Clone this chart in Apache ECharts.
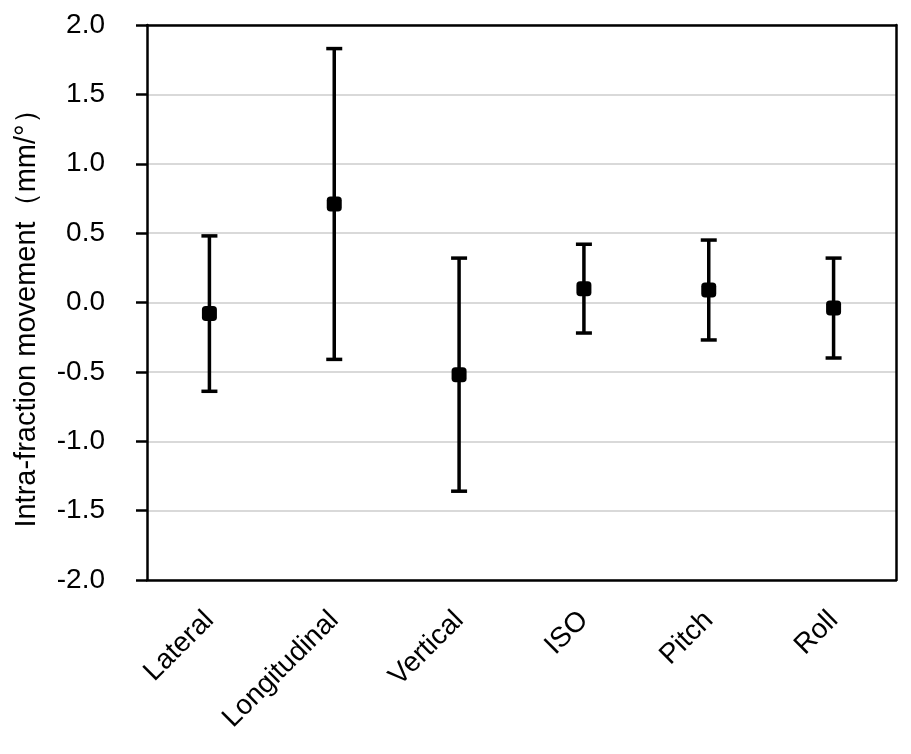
<!DOCTYPE html>
<html>
<head>
<meta charset="utf-8">
<script src="https://cdn.jsdelivr.net/npm/echarts@6/dist/echarts.min.js"></script>
<style>
html, body { margin: 0; padding: 0; background: #fff; }
#chart { width: 911px; height: 754px; }
</style>
</head>
<body>
<div id="chart"></div>
<script>
// movement per axis: mean and error bar ends
var categories = ['Lateral', 'Longitudinal', 'Vertical', 'ISO', 'Pitch', 'Roll'];
var means = [-0.08, 0.71, -0.52, 0.10, 0.09, -0.04];
var upper = [0.48, 1.83, 0.32, 0.42, 0.45, 0.32];
var lower = [-0.64, -0.41, -1.36, -0.22, -0.27, -0.40];

var myChart = echarts.init(document.getElementById('chart'));
var font = 'Liberation Sans, Arial, sans-serif';
var frame = { show: true, onZero: false, lineStyle: { color: '#000', width: 2.5 } };

var barData = categories.map(function (c, i) { return [i, upper[i], lower[i]]; });

option = {
	animation: false,
	grid: { left: 147, right: 15, top: 25, bottom: 174 },
	xAxis: [
		{
			type: 'category',
			data: categories,
			axisLine: frame,
			axisTick: { show: false },
			axisLabel: {
				rotate: 45,
				margin: 36,
				padding: [24, 0, 0, 0],
				fontSize: 28,
				fontFamily: font,
				color: '#000'
			}
		},
		{
			type: 'category',
			data: categories,
			position: 'top',
			axisLine: frame,
			axisTick: { show: false },
			axisLabel: { show: false }
		}
	],
	yAxis: [
		{
			type: 'value',
			min: -2, max: 2, interval: 0.5,
			name: 'Intra-fraction movement（mm/°）',
			nameLocation: 'middle',
			nameGap: 106,
			nameTextStyle: { fontSize: 29, fontFamily: font, color: '#000', padding: [0, 18, 0, 0] },
			axisLine: frame,
			axisTick: { show: true, length: 11, lineStyle: { color: '#000', width: 2.5 } },
			axisLabel: {
				margin: 42,
				fontSize: 28,
				fontFamily: font,
				color: '#000',
				formatter: function (v) { return v.toFixed(1); }
			},
			splitLine: { lineStyle: { color: '#d9d9d9', width: 2 } }
		},
		{
			type: 'value',
			min: -2, max: 2, interval: 0.5,
			position: 'right',
			axisLine: frame,
			axisTick: { show: false },
			axisLabel: { show: false },
			splitLine: { show: false }
		}
	],
	series: [
		{
			type: 'custom',
			data: barData,
			z: 2,
			renderItem: function (params, api) {
				var hi = api.coord([api.value(0), api.value(1)]);
				var lo = api.coord([api.value(0), api.value(2)]);
				var w = 8;
				var st = { stroke: '#000', lineWidth: 3.5 };
				return {
					type: 'group',
					children: [
						{ type: 'line', shape: { x1: hi[0], y1: hi[1], x2: lo[0], y2: lo[1] }, style: st },
						{ type: 'line', shape: { x1: hi[0] - w, y1: hi[1], x2: hi[0] + w, y2: hi[1] }, style: st },
						{ type: 'line', shape: { x1: lo[0] - w, y1: lo[1], x2: lo[0] + w, y2: lo[1] }, style: st }
					]
				};
			}
		},
		{
			type: 'scatter',
			data: means,
			symbol: 'roundRect',
			symbolSize: 15,
			z: 3,
			itemStyle: { color: '#000', opacity: 1 }
		}
	]
};
myChart.setOption(option);
</script>
</body>
</html>
